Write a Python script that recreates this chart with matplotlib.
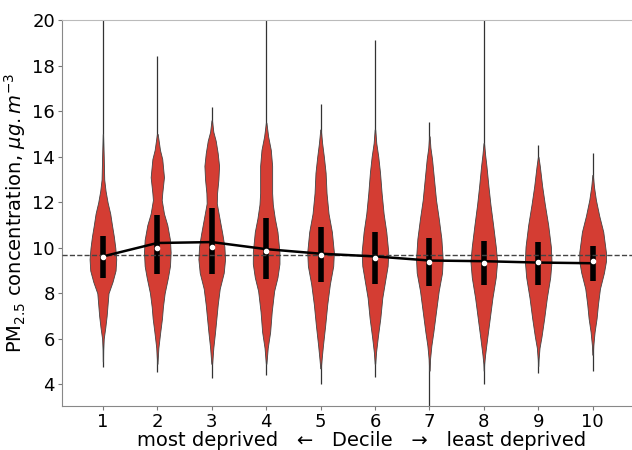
import numpy as np
import matplotlib
matplotlib.use('Agg')
import matplotlib.pyplot as plt

# deciles and summary stats
deciles = [1, 2, 3, 4, 5, 6, 7, 8, 9, 10]
medians = [9.59, 10.01, 10.04, 9.88, 9.68, 9.57, 9.38, 9.35, 9.37, 9.40]
means = [9.62, 10.21, 10.25, 9.94, 9.74, 9.62, 9.44, 9.41, 9.35, 9.32]
q1 = [8.67, 8.84, 8.83, 8.62, 8.48, 8.41, 8.30, 8.36, 8.36, 8.56]
q3 = [10.50, 11.44, 11.75, 11.29, 10.91, 10.69, 10.44, 10.31, 10.26, 10.09]
mins = [4.78, 4.52, 4.27, 4.43, 4.02, 4.34, 2.5, 4.00, 4.49, 4.59]
maxs = [21.0, 18.45, 16.17, 21.0, 16.32, 19.11, 15.51, 21.0, 14.50, 14.15]
overall_mean = 9.69

# violin outlines: (concentration, relative width)
prof_y = {
    1: [5.0, 5.5, 6.0, 6.5, 7.0, 7.5, 8.0, 8.5, 9.0, 9.5, 10.0, 10.5, 11.0, 11.5, 12.0, 12.5, 13.0, 14.0, 15.0],
    2: [4.9, 5.6, 6.3, 6.9, 7.4, 8.0, 8.7, 9.2, 9.8, 10.35, 11.0, 11.5, 12.1, 12.4, 13.0, 13.1, 13.9, 14.3, 15.0],
    3: [4.9, 5.6, 6.3, 6.9, 7.5, 8.2, 8.9, 9.5, 10.05, 10.6, 11.4, 11.95, 12.4, 13.0, 13.6, 14.15, 14.7, 15.1, 15.6],
    4: [4.9, 5.6, 6.3, 7.2, 8.1, 8.7, 9.3, 9.8, 10.7, 11.3, 11.9, 12.4, 13.0, 13.6, 14.3, 14.9, 15.5],
    5: [4.7, 5.1, 5.7, 6.6, 7.5, 8.4, 9.2, 9.8, 10.7, 11.5, 12.4, 13.3, 14.0, 14.6, 15.2],
    6: [4.9, 5.4, 6.1, 6.9, 7.8, 8.5, 9.2, 9.8, 10.7, 11.5, 12.4, 13.3, 14.0, 14.6, 15.2],
    7: [4.6, 5.1, 5.7, 6.3, 7.2, 8.1, 8.9, 9.5, 10.4, 11.3, 12.1, 13.0, 13.9, 14.4, 14.9],
    8: [4.6, 4.9, 5.3, 6.0, 6.9, 7.8, 8.7, 9.4, 10.05, 11.0, 11.9, 12.7, 13.6, 14.1, 14.6],
    9: [4.8, 5.1, 5.6, 6.1, 6.9, 7.8, 8.7, 9.4, 10.05, 11.0, 11.9, 12.7, 13.6, 14.0],
    10: [5.3, 5.7, 6.3, 6.9, 7.5, 8.2, 8.9, 9.4, 9.8, 10.7, 11.4, 12.1, 12.7, 13.2],
}
prof_w = {
    1: [0.01, 0.02, 0.06, 0.18, 0.28, 0.35, 0.42, 0.72, 0.95, 1.0, 0.93, 0.82, 0.68, 0.55, 0.35, 0.2, 0.1, 0.06, 0.01],
    2: [0.01, 0.08, 0.22, 0.35, 0.42, 0.55, 0.8, 0.95, 1.0, 0.95, 0.75, 0.5, 0.33, 0.37, 0.48, 0.5, 0.37, 0.2, 0.03],
    3: [0.03, 0.12, 0.25, 0.35, 0.45, 0.6, 0.9, 1.0, 0.95, 0.8, 0.55, 0.38, 0.4, 0.5, 0.55, 0.45, 0.3, 0.12, 0.02],
    4: [0.02, 0.12, 0.3, 0.42, 0.6, 0.85, 1.0, 1.0, 0.85, 0.65, 0.5, 0.45, 0.45, 0.45, 0.35, 0.15, 0.02],
    5: [0.02, 0.08, 0.18, 0.35, 0.5, 0.7, 0.95, 1.0, 0.85, 0.6, 0.45, 0.38, 0.25, 0.12, 0.02],
    6: [0.02, 0.08, 0.22, 0.4, 0.55, 0.75, 0.95, 1.0, 0.85, 0.65, 0.5, 0.38, 0.25, 0.1, 0.02],
    7: [0.02, 0.05, 0.15, 0.3, 0.5, 0.7, 0.95, 1.0, 0.9, 0.7, 0.5, 0.35, 0.2, 0.08, 0.02],
    8: [0.01, 0.03, 0.1, 0.25, 0.45, 0.65, 0.9, 1.0, 0.9, 0.7, 0.5, 0.35, 0.2, 0.1, 0.02],
    9: [0.01, 0.03, 0.1, 0.25, 0.45, 0.65, 0.9, 1.0, 0.95, 0.75, 0.5, 0.3, 0.12, 0.02],
    10: [0.02, 0.05, 0.15, 0.3, 0.4, 0.55, 0.85, 1.0, 1.0, 0.8, 0.5, 0.25, 0.1, 0.02],
}

plt.rcParams['font.family'] = ['DejaVu Sans']
fig, ax = plt.subplots(figsize=(6.32, 4.5), dpi=100)
# the axes run a little past the right edge of the picture
fig.subplots_adjust(left=0.098, right=1.047, top=0.955, bottom=0.098)

# thin tails min -> max
ax.vlines(deciles, mins, maxs, color='#333333', lw=0.9, zorder=1)

stats = []
for d in deciles:
    i = d - 1
    stats.append({'coords': np.array(prof_y[d]), 'vals': np.array(prof_w[d]),
                  'mean': means[i], 'median': medians[i], 'min': mins[i], 'max': maxs[i]})
parts = ax.violin(stats, positions=deciles, widths=0.49, showmeans=False,
                  showextrema=False, showmedians=False)
for b in parts['bodies']:
    b.set_facecolor('#d43d33')
    b.set_edgecolor('#444444')
    b.set_linewidth(0.6)
    b.set_alpha(1)
    b.set_zorder(2)

# inner box
ax.vlines(deciles, q1, q3, color='black', lw=4, zorder=3)
ax.axhline(overall_mean, color='#444444', ls='--', lw=1, zorder=3)
ax.plot(deciles, means, color='black', lw=1.8, zorder=4)
ax.scatter(deciles, medians, color='white', s=9, zorder=5)

ax.set_xlim(0.247, 11.27)
ax.set_ylim(3.05, 20)
ax.set_xticks(deciles)
ax.set_yticks([4, 6, 8, 10, 12, 14, 16, 18, 20])
ax.tick_params(labelsize=13, color='#777777', length=3, pad=2)
for s in ax.spines.values():
    s.set_color('#888888')
ax.spines['top'].set_color('#bbbbbb')

ax.set_xlabel('most deprived   \u2190   Decile   \u2192   least deprived', fontsize=14, labelpad=0)
ax.set_ylabel('PM$_{2.5}$ concentration, $\\mu g.m^{-3}$', fontsize=14, labelpad=3)

fig.savefig('out.png')
